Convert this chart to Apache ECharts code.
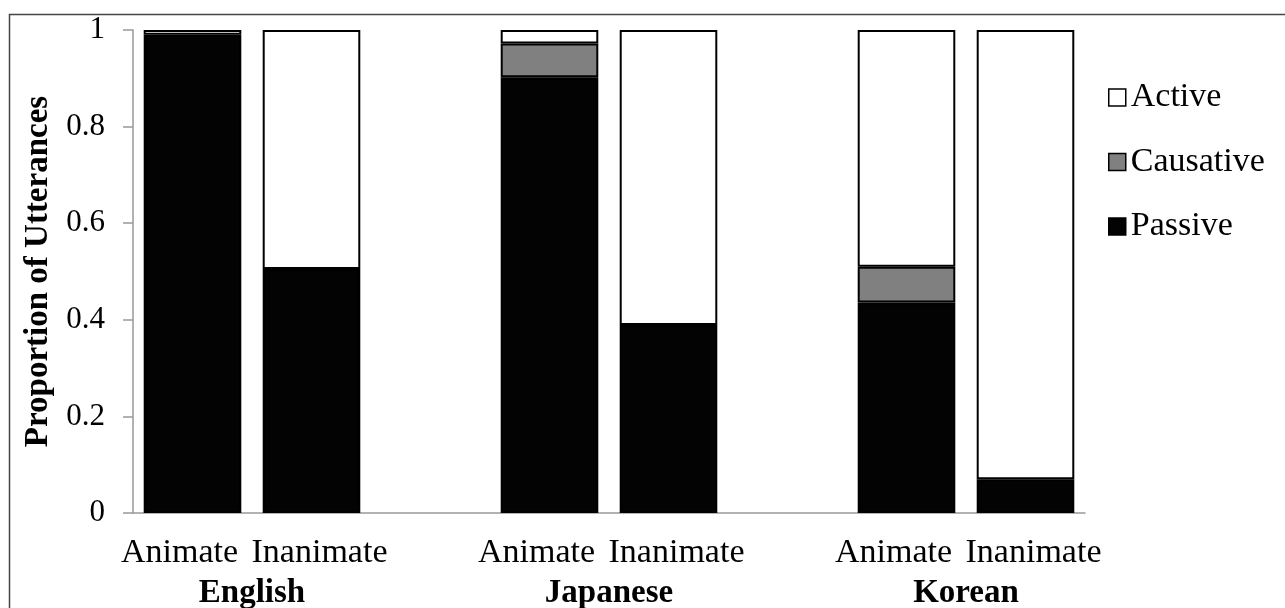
<!DOCTYPE html>
<html>
<head>
<meta charset="utf-8">
<script src="https://cdn.jsdelivr.net/npm/echarts@6/dist/echarts.min.js"></script>
<style>
html,body{margin:0;padding:0;background:#fff;}
#chart{width:1285px;height:608px;}
</style>
</head>
<body>
<div id="chart"></div>
<script>
// Data
var categories = ['Animate', 'Inanimate', '', 'Animate', 'Inanimate', '', 'Animate', 'Inanimate'];
var groupNames = ['English', 'Japanese', 'Korean'];
var passive   = [0.99, 0.505, null, 0.902, 0.389, null, 0.436, 0.070];
var causative = [0,    0,     null, 0.070, 0,     null, 0.074, 0];
var active    = [0.01, 0.495, null, 0.028, 0.611, null, 0.490, 0.930];
var yTicks = [0, 0.2, 0.4, 0.6, 0.8, 1];

var FONT = '"Liberation Serif", "Times New Roman", serif';

function clean(arr) {
  return arr.map(function (v) { return (v === null || v === 0) ? '-' : v; });
}

// group label positions: centre of each pair of categories
var groupPos = {};
groupNames.forEach(function (g, i) { groupPos[i * 3 + 1] = g; });

var chart = echarts.init(document.getElementById('chart'));
var barStyle = function (color) {
  return { color: color, borderColor: '#000', borderWidth: 2 };
};
var option = {
  animation: false,
  backgroundColor: '#fff',
  grid: { left: 133, right: 200, top: 30, bottom: 95, containLabel: false, outerBoundsMode: 'none' },
  legend: {
    orient: 'vertical',
    left: 1103,
    top: 75,
    itemWidth: 17,
    itemHeight: 17,
    itemGap: 29.5,
    icon: 'rect',
    data: ['Active', 'Causative', 'Passive'],
    itemStyle: { borderColor: '#000', borderWidth: 1.5 },
    textStyle: { fontFamily: FONT, fontSize: 34, color: '#000', lineHeight: 35, padding: [0, 0, 0, 0] }
  },
  xAxis: [
    {
      type: 'category',
      data: categories,
      axisLine: { lineStyle: { color: '#999', width: 1.5 } },
      axisTick: { show: false },
      axisLabel: {
        fontFamily: FONT, fontSize: 34, color: '#000', margin: 23, interval: 0,
        formatter: function (v, i) {
          if (!v) return '';
          return (i % 3 === 0 ? '{a|' : '{b|') + v + '}';
        },
        rich: {
          a: { fontFamily: FONT, fontSize: 34, color: '#000', padding: [0, 26, 0, 0] },
          b: { fontFamily: FONT, fontSize: 34, color: '#000', padding: [0, 0, 0, 16] }
        }
      }
    },
    {
      type: 'value',
      position: 'bottom',
      min: 0,
      max: categories.length,
      interval: 1,
      axisLine: { show: false },
      axisTick: { show: false },
      splitLine: { show: false },
      axisLabel: {
        fontFamily: FONT, fontSize: 33, fontWeight: 'bold', color: '#000', margin: 64,
        showMinLabel: true, showMaxLabel: true,
        formatter: function (v) { return groupPos[v] || ''; }
      }
    }
  ],
  yAxis: {
    type: 'value',
    min: yTicks[0],
    max: yTicks[yTicks.length - 1],
    interval: 0.2,
    name: 'Proportion of Utterances',
    nameLocation: 'middle',
    nameGap: 76,
    nameTextStyle: { fontFamily: FONT, fontSize: 33, fontWeight: 'bold', color: '#000' },
    axisLine: { show: true, lineStyle: { color: '#999', width: 1.5 } },
    axisTick: { show: true, length: 10, lineStyle: { color: '#999', width: 1.5 } },
    splitLine: { show: false },
    axisLabel: {
      fontFamily: FONT, fontSize: 31, color: '#000', margin: 28,
      formatter: function (v) { return String(Math.round(v * 10) / 10); }
    }
  },
  series: [
    { name: 'Passive', type: 'bar', stack: 'a', barCategoryGap: '18%', data: clean(passive), itemStyle: barStyle('#030303') },
    { name: 'Causative', type: 'bar', stack: 'a', barCategoryGap: '18%', data: clean(causative), itemStyle: barStyle('#808080') },
    { name: 'Active', type: 'bar', stack: 'a', barCategoryGap: '18%', data: clean(active), itemStyle: barStyle('#ffffff') }
  ],
  graphic: [
    { type: 'rect', left: 7, top: 12, shape: { width: 1400, height: 700 }, style: { fill: 'none', stroke: '#444', lineWidth: 1.5 }, silent: true }
  ]
};
chart.setOption(option);
</script>
</body>
</html>
